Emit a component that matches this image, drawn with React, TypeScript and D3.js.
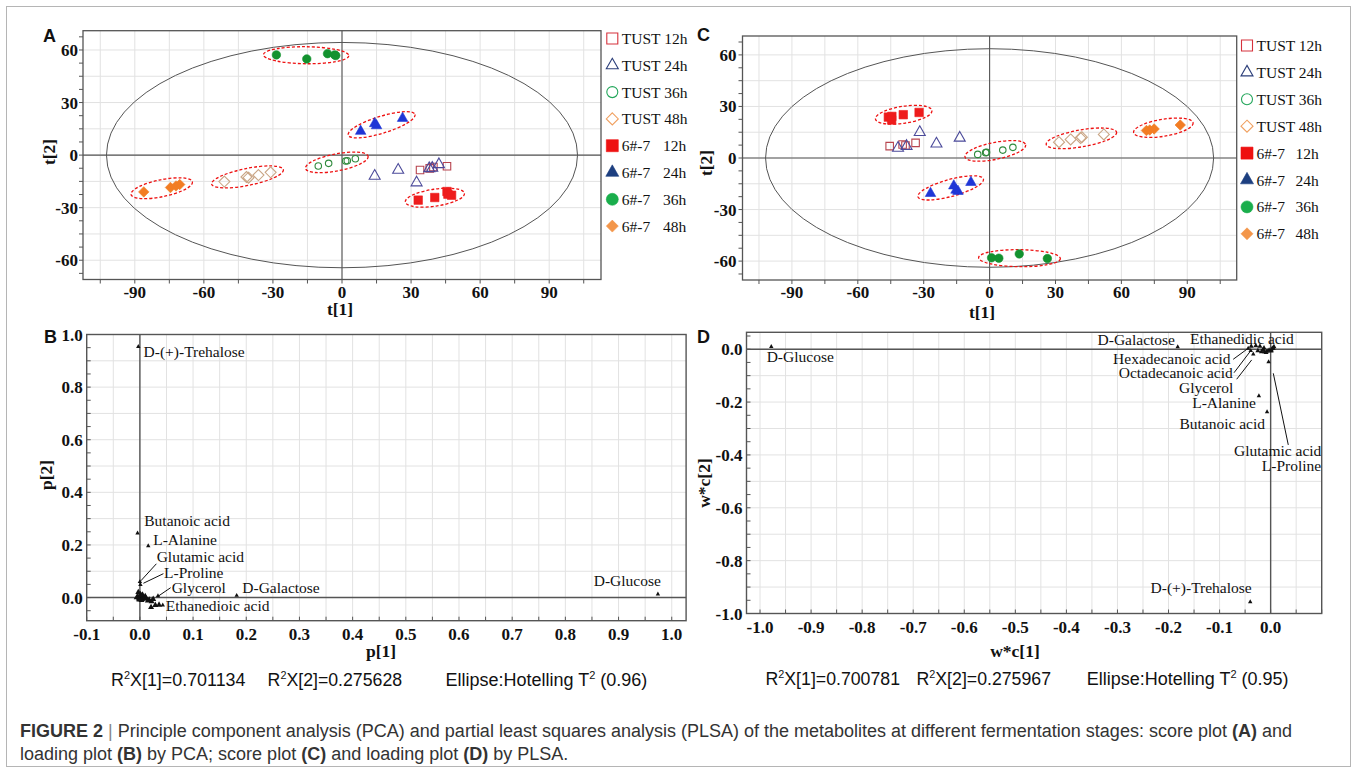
import React from "react";
import * as d3 from "d3";

type P = [number, number];

// ---------------- Score plot data: PCA (panel A) ----------------
const pcaTust12h: P[] = [[33.9, -8.5], [38.1, -7.6], [39.7, -6.8], [45.6, -6.4]];
const pcaTust24h: P[] = [[14.2, -11.9], [24.4, -8.5], [32.4, -15.7], [37.9, -7.6], [39.2, -7.4], [42.1, -5.3]];
const pcaTust36h: P[] = [[-10.3, -6.2], [-5.8, -4.7], [1.6, -3.4], [2.3, -3.2], [5.8, -2.1]];
const pcaTust48h: P[] = [[-51.1, -15.1], [-41.5, -12.5], [-40.6, -12.9], [-36.3, -11.4], [-31.0, -9.8]];
const pcaS12h: P[] = [[33.1, -25.7], [40.3, -24.2], [45.6, -20.8], [46.0, -22.3], [47.6, -22.9]];
const pcaS24h: P[] = [[8.1, 13.6], [14.2, 18.0], [15.0, 16.8], [26.3, 21.0]];
const pcaS36h: P[] = [[-28.5, 57.2], [-15.3, 54.9], [-6.3, 57.9], [-3.2, 57.2], [-2.7, 56.8]];
const pcaS48h: P[] = [[-86.1, -21.0], [-74.5, -18.5], [-72.1, -17.6], [-70.5, -16.8]];

// ---------------- Score plot data: PLSA (panel C) ----------------
const plsaTust12h: P[] = [[-45.5, 6.9], [-39.6, 7.9], [-38.3, 7.3], [-33.7, 8.8]];
const plsaTust24h: P[] = [[-41.7, 5.8], [-37.8, 6.9], [-31.8, 15.0], [-24.2, 8.3], [-13.6, 11.7]];
const plsaTust36h: P[] = [[-5.4, 2.1], [-1.8, 3.1], [-1.4, 3.3], [6.0, 4.6], [10.6, 6.2]];
const plsaTust48h: P[] = [[31.6, 9.2], [36.9, 10.8], [41.4, 11.7], [42.0, 12.1], [52.0, 13.7]];
const plsaS12h: P[] = [[-46.1, 23.8], [-44.5, 24.2], [-44.6, 22.1], [-39.3, 25.2], [-32.1, 26.5]];
const plsaS24h: P[] = [[-26.9, -20.6], [-16.3, -16.2], [-15.3, -18.7], [-14.4, -19.4], [-8.5, -14.2]];
const plsaS36h: P[] = [[0.9, -58.1], [4.2, -58.3], [13.5, -55.8], [26.3, -58.5]];
const plsaS48h: P[] = [[71.4, 16.0], [72.9, 16.3], [74.9, 16.9], [86.8, 19.2]];

// Hotelling T2 ellipse semi-axes (t[1], t[2])
const hotellingA: P = [102.3, 64.3];
const hotellingC: P = [102.0, 63.6];

// Legend labels
const legendStrain = ["TUST", "TUST", "TUST", "TUST", "6#-7", "6#-7", "6#-7", "6#-7"];
const legendTime = ["12h", "24h", "36h", "48h", "12h", "24h", "36h", "48h"];
// groups that carry a dashed ellipse
const ellipseGroups = [2, 3, 4, 5, 6, 7];

// Score axis ticks
const scoreXTicks = [-90, -60, -30, 0, 30, 60, 90];
const scoreYTicks = [-60, -30, 0, 30, 60];

// ---------------- Loading plot data: PCA (panel B) ----------------
const pcaLoadNames = ["D-(+)-Trehalose", "Butanoic acid", "L-Alanine", "Glutamic acid", "L-Proline", "Glycerol", "D-Galactose", "Ethanedioic acid", "D-Glucose"];
const pcaLoadX = [-0.003, -0.0044, 0.0157, 0.0, 0.001, 0.034, 0.182, 0.043, 0.974];
const pcaLoadY = [0.954, 0.245, 0.196, 0.06, 0.049, 0.006, 0.0076, -0.029, 0.013];
const pcaOtherX = [-0.004, 0.0, 0.002, -0.002, 0.004, 0.006, -0.006, 0.008, 0.001, 0.003, 0.0175, 0.022, 0.025, 0.021, 0.029, 0.036, -0.003, 0.01, -0.001, 0.005, 0.012, 0.015];
const pcaOtherY = [0.004, 0.0, 0.008, -0.004, -0.006, 0.002, 0.0, -0.003, 0.012, -0.01, -0.009, -0.015, -0.006, -0.037, -0.029, -0.028, 0.02, 0.005, -0.008, 0.01, -0.004, -0.012];

// ---------------- Loading plot data: PLSA (panel D) ----------------
const plsaLoadNames = ["D-Glucose", "D-Galactose", "Ethanedidic acid", "Hexadecanoic acid", "Octadecanoic acid", "Glycerol", "L-Alanine", "Butanoic acid", "Glutamic acid", "L-Proline", "D-(+)-Trehalose"];
const plsaLoadX = [-0.978, -0.182, -0.013, -0.044, -0.039, -0.034, -0.023, -0.007, -0.004, 0.002, -0.04];
const plsaLoadY = [0.01, 0.009, 0.006, 0.0034, -0.0057, -0.019, -0.177, -0.237, -0.048, -0.004, -0.956];
const plsaOtherX = [-0.038, -0.029, -0.021, -0.025, -0.018, -0.012, -0.007, -0.003, 0.003, 0.0065, -0.015, -0.009, 0.001, 0.005];
const plsaOtherY = [0.011, 0.013, 0.011, -0.006, -0.01, -0.01, -0.008, -0.004, 0.0025, 0.009, -0.002, -0.012, -0.007, 0.004];

const pcaR2X = ["0.701134", "0.275628"];
const plsaR2X = ["0.700781", "0.275967"];
const hotellingLevel = ["0.96", "0.95"];

// ---------------- layout / style ----------------
const W = 1357;
const H = 772;
const SERIF = "'Times New Roman', 'Liberation Serif', serif";
const SANS = "Arial, 'Liberation Sans', Helvetica, sans-serif";

const PLOT_COLORS = ["#b8454f", "#4b4a9a", "#2f8a3c", "#c9a585", "#ee1c1c", "#1f36d6", "#13922f", "#f27d24"];
const LEGEND_COLORS = ["#d6323c", "#2c3f7a", "#22a65a", "#f0a060", "#ee1111", "#1d3f80", "#1aae4c", "#f3964a"];
const SHAPES = ["square", "triangle", "circle", "diamond", "square", "triangle", "circle", "diamond"];
const FILLED = [false, false, false, false, true, true, true, true];
const PLOT_SIZES = [7.5, 11, 6.5, 11, 8.5, 10.5, 8.5, 10.5];
const LEGEND_SIZES = [11, 12, 11, 12, 12, 13, 12, 12];

type Frame = { x0: number; x1: number; y0: number; y1: number };

function Marker(props: { shape: string; filled: boolean; color: string; size: number; x: number; y: number }) {
  const { shape, filled, color, size: s, x, y } = props;
  const fill = filled ? color : "none";
  const stroke = color;
  const sw = filled ? 0.6 : 1.1;
  if (shape === "circle") {
    return <circle cx={x} cy={y} r={s / 2} fill={fill} stroke={stroke} strokeWidth={sw} />;
  }
  let d = "";
  if (shape === "square") d = `M${-s / 2},${-s / 2}h${s}v${s}h${-s}Z`;
  else if (shape === "triangle") {
    const h = s * 0.88;
    d = `M0,${(-h * 2) / 3}L${s / 2},${h / 3}L${-s / 2},${h / 3}Z`;
  } else d = `M0,${-s / 2}L${s / 2},0L0,${s / 2}L${-s / 2},0Z`;
  return <path d={d} transform={`translate(${x},${y})`} fill={fill} stroke={stroke} strokeWidth={sw} />;
}

function groupEllipse(pts: P[], xs: d3.ScaleLinear<number, number>, ys: d3.ScaleLinear<number, number>) {
  const px = pts.map((p) => [xs(p[0]), ys(p[1])]);
  const a = px.reduce((m, p) => (p[0] < m[0] ? p : m));
  const b = px.reduce((m, p) => (p[0] > m[0] ? p : m));
  const cx = (a[0] + b[0]) / 2;
  const cy = (a[1] + b[1]) / 2;
  const ang = (Math.atan2(b[1] - a[1], b[0] - a[0]) * 180) / Math.PI;
  const half = Math.hypot(b[0] - a[0], b[1] - a[1]) / 2;
  return { cx, cy, ang, rx: half + 13, ry: 8.5 };
}

function ScorePanel(props: {
  frame: Frame;
  scores: P[][];
  hotelling: P;
  letter: string;
  letterPos: P;
  legendX: number;
  legendY0: number;
  legendStep: number;
  legendTimeDx: number;
  xTitlePos: P;
  yTitlePos: P;
  yLabelGap: number;
}) {
  const { frame: f, scores, hotelling } = props;
  const xs = d3.scaleLinear().domain([-112.5, 112.5]).range([f.x0, f.x1]);
  const ys = d3.scaleLinear().domain([-71, 71]).range([f.y1, f.y0]);
  const grid = d3.range(-105, 106, 15);
  const gridY = d3.range(-60, 61, 15);
  const minorY = d3.range(-67.5, 68, 7.5);
  return (
    <g>
      {grid.map((v) => (
        <line key={"gx" + v} x1={xs(v)} x2={xs(v)} y1={f.y0} y2={f.y1} stroke="#e2e2e2" strokeWidth={1} />
      ))}
      {gridY.map((v) => (
        <line key={"gy" + v} x1={f.x0} x2={f.x1} y1={ys(v)} y2={ys(v)} stroke="#e2e2e2" strokeWidth={1} />
      ))}
      <line x1={f.x0} x2={f.x1} y1={ys(0)} y2={ys(0)} stroke="#555" strokeWidth={1.1} />
      <line x1={xs(0)} x2={xs(0)} y1={f.y0} y2={f.y1} stroke="#555" strokeWidth={1.1} />
      <ellipse cx={xs(0)} cy={ys(0)} rx={xs(hotelling[0]) - xs(0)} ry={ys(0) - ys(hotelling[1])} fill="none" stroke="#555" strokeWidth={1} />
      <rect x={f.x0} y={f.y0} width={f.x1 - f.x0} height={f.y1 - f.y0} fill="none" stroke="#555" strokeWidth={1.3} />
      {grid.map((v) => (
        <line key={"tx" + v} x1={xs(v)} x2={xs(v)} y1={f.y1} y2={f.y1 + 4} stroke="#555" strokeWidth={1} />
      ))}
      {minorY.map((v) => (
        <line key={"ty" + v} x1={f.x0 - 4} x2={f.x0} y1={ys(v)} y2={ys(v)} stroke="#555" strokeWidth={1} />
      ))}
      {scoreXTicks.map((v) => (
        <text key={"lx" + v} x={xs(v)} y={f.y1 + 18} textAnchor="middle" fontFamily={SERIF} fontWeight="bold" fontSize={17} fill="#111">
          {String(v)}
        </text>
      ))}
      {scoreYTicks.map((v) => (
        <text key={"ly" + v} x={f.x0 - props.yLabelGap} y={ys(v) + 6} textAnchor="end" fontFamily={SERIF} fontWeight="bold" fontSize={17} fill="#111">
          {String(v)}
        </text>
      ))}
      <text x={props.xTitlePos[0]} y={props.xTitlePos[1]} textAnchor="middle" fontFamily={SERIF} fontWeight="bold" fontSize={17.5} fill="#111">
        t[1]
      </text>
      <text
        transform={`translate(${props.yTitlePos[0]},${props.yTitlePos[1]}) rotate(-90)`}
        textAnchor="middle"
        fontFamily={SERIF}
        fontWeight="bold"
        fontSize={17.5}
        fill="#111"
      >
        t[2]
      </text>
      {ellipseGroups.map((gi) => {
        const e = groupEllipse(scores[gi], xs, ys);
        return (
          <ellipse
            key={"el" + gi}
            cx={e.cx}
            cy={e.cy}
            rx={e.rx}
            ry={e.ry}
            transform={`rotate(${e.ang} ${e.cx} ${e.cy})`}
            fill="none"
            stroke="#ee1111"
            strokeWidth={1.3}
            strokeDasharray="3,2"
          />
        );
      })}
      {scores.map((pts, gi) =>
        pts.map((p, i) => (
          <Marker key={gi + "-" + i} shape={SHAPES[gi]} filled={FILLED[gi]} color={PLOT_COLORS[gi]} size={PLOT_SIZES[gi]} x={xs(p[0])} y={ys(p[1])} />
        ))
      )}
      {legendStrain.map((s, i) => {
        const y = props.legendY0 + i * props.legendStep;
        const tx = props.legendX + 9.5;
        return (
          <g key={"lg" + i}>
            <Marker shape={SHAPES[i]} filled={FILLED[i]} color={LEGEND_COLORS[i]} size={LEGEND_SIZES[i]} x={props.legendX} y={y} />
            {s === "TUST" ? (
              <text x={tx} y={y + 5.5} fontFamily={SERIF} fontSize={15.5} fill="#111">
                {s + " " + legendTime[i]}
              </text>
            ) : (
              <g>
                <text x={tx} y={y + 5.5} fontFamily={SERIF} fontSize={15.5} fill="#111">
                  {s}
                </text>
                <text x={tx + props.legendTimeDx} y={y + 5.5} fontFamily={SERIF} fontSize={15.5} fill="#111">
                  {legendTime[i]}
                </text>
              </g>
            )}
          </g>
        );
      })}
      <text x={props.letterPos[0]} y={props.letterPos[1]} fontFamily={SANS} fontWeight="bold" fontSize={18} fill="#111">
        {props.letter}
      </text>
    </g>
  );
}

type LabelLayout = { dx: number; dy: number; anchor?: string; leader?: [number, number, number, number] };

function fmt1(v: number) {
  if (Math.abs(v) < 1e-9) return "0.0";
  return v.toFixed(1);
}

function Tri(props: { x: number; y: number; s?: number }) {
  const s = props.s || 4.4;
  const h = s * 0.9;
  return <path d={`M${props.x},${props.y - (h * 2) / 3}L${props.x + s / 2},${props.y + h / 3}L${props.x - s / 2},${props.y + h / 3}Z`} fill="#111" />;
}

function LoadingPanel(props: {
  frame: Frame;
  xDomain: [number, number];
  yDomain: [number, number];
  xTicks: number[];
  yTicks: number[];
  names: string[];
  lx: number[];
  ly: number[];
  ox: number[];
  oy: number[];
  otherSize: number;
  layout: Record<string, LabelLayout>;
  letter: string;
  letterPos: P;
  xTitle: string;
  yTitle: string;
  xTitlePos: P;
  yTitlePos: P;
}) {
  const f = props.frame;
  const xs = d3.scaleLinear().domain(props.xDomain).range([f.x0, f.x1]);
  const ys = d3.scaleLinear().domain(props.yDomain).range([f.y1, f.y0]);
  const gx = d3.range(Math.ceil(props.xDomain[0] * 20 - 1e-6), Math.floor(props.xDomain[1] * 20 + 1e-6) + 1).map((k) => k / 20);
  const gy = d3.range(Math.ceil(props.yDomain[0] * 10 - 1e-6), Math.floor(props.yDomain[1] * 10 + 1e-6) + 1).map((k) => k / 10);
  const ty = d3.range(Math.ceil(props.yDomain[0] * 20 - 1e-6), Math.floor(props.yDomain[1] * 20 + 1e-6) + 1).map((k) => k / 20);
  return (
    <g>
      {gx.map((v) => (
        <line key={"gx" + v} x1={xs(v)} x2={xs(v)} y1={f.y0} y2={f.y1} stroke="#e2e2e2" strokeWidth={1} />
      ))}
      {gy.map((v) => (
        <line key={"gy" + v} x1={f.x0} x2={f.x1} y1={ys(v)} y2={ys(v)} stroke="#e2e2e2" strokeWidth={1} />
      ))}
      <line x1={f.x0} x2={f.x1} y1={ys(0)} y2={ys(0)} stroke="#555" strokeWidth={1.4} />
      <line x1={xs(0)} x2={xs(0)} y1={f.y0} y2={f.y1} stroke="#555" strokeWidth={1.4} />
      <rect x={f.x0} y={f.y0} width={f.x1 - f.x0} height={f.y1 - f.y0} fill="none" stroke="#555" strokeWidth={1.4} />
      {gx.map((v) => (
        <line key={"tx" + v} x1={xs(v)} x2={xs(v)} y1={f.y1} y2={f.y1 - 4} stroke="#555" strokeWidth={1} />
      ))}
      {ty.map((v) => (
        <line key={"ty" + v} x1={f.x0} x2={f.x0 + 4} y1={ys(v)} y2={ys(v)} stroke="#555" strokeWidth={1} />
      ))}
      {props.xTicks.map((v) => (
        <text key={"lx" + v} x={xs(v)} y={f.y1 + 19} textAnchor="middle" fontFamily={SERIF} fontWeight="bold" fontSize={17} fill="#111">
          {fmt1(v)}
        </text>
      ))}
      {props.yTicks.map((v) => (
        <text key={"ly" + v} x={f.x0 - 4} y={ys(v) + 6} textAnchor="end" fontFamily={SERIF} fontWeight="bold" fontSize={17} fill="#111">
          {fmt1(v)}
        </text>
      ))}
      <text x={props.xTitlePos[0]} y={props.xTitlePos[1]} textAnchor="middle" fontFamily={SERIF} fontWeight="bold" fontSize={17.5} fill="#111">
        {props.xTitle}
      </text>
      <text
        transform={`translate(${props.yTitlePos[0]},${props.yTitlePos[1]}) rotate(-90)`}
        textAnchor="middle"
        fontFamily={SERIF}
        fontWeight="bold"
        fontSize={17.5}
        fill="#111"
      >
        {props.yTitle}
      </text>
      {props.ox.map((v, i) => (
        <Tri key={"o" + i} x={xs(v)} y={ys(props.oy[i])} s={props.otherSize} />
      ))}
      {props.names.map((n, i) => {
        const px = xs(props.lx[i]);
        const py = ys(props.ly[i]);
        const L = props.layout[n];
        return (
          <g key={"n" + i}>
            <Tri x={px} y={py} />
            {L && L.leader ? (
              <line x1={px + L.leader[0]} y1={py + L.leader[1]} x2={px + L.leader[2]} y2={py + L.leader[3]} stroke="#111" strokeWidth={1} />
            ) : null}
            {L ? (
              <text x={px + L.dx} y={py + L.dy} textAnchor={L.anchor || "start"} fontFamily={SERIF} fontSize={15.5} fill="#111">
                {n}
              </text>
            ) : null}
          </g>
        );
      })}
      <text x={props.letterPos[0]} y={props.letterPos[1]} fontFamily={SANS} fontWeight="bold" fontSize={18} fill="#111">
        {props.letter}
      </text>
    </g>
  );
}

const layoutB: Record<string, LabelLayout> = {
  "D-(+)-Trehalose": { dx: 5.3, dy: 10.7 },
  "Butanoic acid": { dx: 6.7, dy: -7 },
  "L-Alanine": { dx: 5, dy: -1 },
  "Glutamic acid": { dx: 16.8, dy: -19.5, leader: [1, -1, 16.5, -18] },
  "L-Proline": { dx: 23.6, dy: -6.4, leader: [3, -1.4, 23, -11] },
  Glycerol: { dx: 13.7, dy: -2.7, leader: [1, -0.3, 12.7, -8.3] },
  "D-Galactose": { dx: 5.6, dy: -2.3 },
  "Ethanedioic acid": { dx: 3, dy: 6 },
  "D-Glucose": { dx: 3, dy: -8.4, anchor: "end" },
};

const layoutD: Record<string, LabelLayout> = {
  "D-Glucose": { dx: -4.6, dy: 15.7 },
  "D-Galactose": { dx: -2.7, dy: -1.8, anchor: "end" },
  "Ethanedidic acid": { dx: -74, dy: -3.6 },
  "Hexadecanoic acid": { dx: -17.6, dy: 15.7, anchor: "end", leader: [0, 0, -15, 11] },
  "Octadecanoic acid": { dx: -18, dy: 27.6, anchor: "end", leader: [0, 0, -16.7, 22] },
  Glycerol: { dx: -20, dy: 39, anchor: "end", leader: [-1.6, 5.7, -16.6, 25] },
  "L-Alanine": { dx: -3, dy: 12.3, anchor: "end" },
  "Butanoic acid": { dx: -2, dy: 17.5, anchor: "end" },
  "Glutamic acid": { dx: -34.6, dy: 94, leader: [4.7, 11.4, 19.7, 83] },
  "L-Proline": { dx: -9.9, dy: 120.7 },
  "D-(+)-Trehalose": { dx: 1.5, dy: -8.9, anchor: "end" },
};

function Footer(props: { x: number[]; y: number; r2: string[]; level: string }) {
  const sup = (s: string) => (
    <tspan fontSize={11} dy={-7}>
      {s}
    </tspan>
  );
  return (
    <g fontFamily={SANS} fontSize={18} fill="#111">
      <text x={props.x[0]} y={props.y} textLength={134.5} lengthAdjust="spacingAndGlyphs">
        R{sup("2")}
        <tspan dy={7}>{"X[1]=" + props.r2[0]}</tspan>
      </text>
      <text x={props.x[1]} y={props.y} textLength={134.5} lengthAdjust="spacingAndGlyphs">
        R{sup("2")}
        <tspan dy={7}>{"X[2]=" + props.r2[1]}</tspan>
      </text>
      <text x={props.x[2]} y={props.y}>
        Ellipse:Hotelling T{sup("2")}
        <tspan dy={7}>{" (" + props.level + ")"}</tspan>
      </text>
    </g>
  );
}

export default function App() {
  const pcaScores = [pcaTust12h, pcaTust24h, pcaTust36h, pcaTust48h, pcaS12h, pcaS24h, pcaS36h, pcaS48h];
  const plsaScores = [plsaTust12h, plsaTust24h, plsaTust36h, plsaTust48h, plsaS12h, plsaS24h, plsaS36h, plsaS48h];
  const bXTicks = d3.range(-1, 11).map((k) => k / 10);
  const bYTicks = d3.range(0, 6).map((k) => (k * 2) / 10);
  const dXTicks = d3.range(-10, 1).map((k) => k / 10);
  const dYTicks = d3.range(-5, 1).map((k) => (k * 2) / 10);
  return (
    <svg width={W} height={H} viewBox={`0 0 ${W} ${H}`} style={{ position: "absolute", left: 0, top: 0, background: "#fff" }}>
      <rect x={0} y={0} width={W} height={H} fill="#fff" />
      <rect x={6.5} y={6.5} width={1344} height={760} fill="none" stroke="#b5b5b5" strokeWidth={1} />
      <ScorePanel
        frame={{ x0: 83, x1: 601, y0: 30.7, y1: 279.5 }}
        scores={pcaScores}
        hotelling={hotellingA}
        letter="A"
        letterPos={[43, 42]}
        legendX={612.3}
        legendY0={38.5}
        legendStep={26.8}
        legendTimeDx={41.3}
        xTitlePos={[340, 315]}
        yTitlePos={[55, 152]}
        yLabelGap={5}
      />
      <ScorePanel
        frame={{ x0: 742.5, x1: 1236.7, y0: 36, y1: 280 }}
        scores={plsaScores}
        hotelling={hotellingC}
        letter="C"
        letterPos={[697, 41]}
        legendX={1247}
        legendY0={45.5}
        legendStep={26.9}
        legendTimeDx={39}
        xTitlePos={[982, 318]}
        yTitlePos={[712, 163]}
        yLabelGap={6}
      />
      <LoadingPanel
        frame={{ x0: 86.7, x1: 686.1, y0: 334.5, y1: 620.7 }}
        xDomain={[-0.1, 1.027]}
        yDomain={[-0.088, 1.0]}
        xTicks={bXTicks}
        yTicks={bYTicks}
        names={pcaLoadNames}
        lx={pcaLoadX}
        ly={pcaLoadY}
        ox={pcaOtherX}
        oy={pcaOtherY}
        otherSize={6}
        layout={layoutB}
        letter="B"
        letterPos={[44, 343]}
        xTitle="p[1]"
        yTitle="p[2]"
        xTitlePos={[381, 657]}
        yTitlePos={[52, 475]}
      />
      <LoadingPanel
        frame={{ x0: 746.5, x1: 1321.7, y0: 332.3, y1: 613.5 }}
        xDomain={[-1.0265, 0.1]}
        yDomain={[-1.0, 0.064]}
        xTicks={dXTicks}
        yTicks={dYTicks}
        names={plsaLoadNames}
        lx={plsaLoadX}
        ly={plsaLoadY}
        ox={plsaOtherX}
        oy={plsaOtherY}
        otherSize={5}
        layout={layoutD}
        letter="D"
        letterPos={[697, 343]}
        xTitle="w*c[1]"
        yTitle="w*c[2]"
        xTitlePos={[1015, 657]}
        yTitlePos={[710, 483]}
      />
      <Footer x={[111, 267.6, 445.4]} y={686} r2={pcaR2X} level={hotellingLevel[0]} />
      <Footer x={[765.5, 916.5, 1086.7]} y={685} r2={plsaR2X} level={hotellingLevel[1]} />
      <g fontFamily={SANS} fontSize={18} fill="#333">
        <text x={20} y={737}>
          <tspan fontWeight="bold">FIGURE 2</tspan>
          <tspan fill="#888"> | </tspan>
          <tspan>Principle component analysis (PCA) and partial least squares analysis (PLSA) of the metabolites at different fermentation stages: score plot </tspan>
          <tspan fontWeight="bold">(A)</tspan>
          <tspan> and</tspan>
        </text>
        <text x={20} y={760}>
          <tspan>loading plot </tspan>
          <tspan fontWeight="bold">(B)</tspan>
          <tspan> by PCA; score plot </tspan>
          <tspan fontWeight="bold">(C)</tspan>
          <tspan> and loading plot </tspan>
          <tspan fontWeight="bold">(D)</tspan>
          <tspan> by PLSA.</tspan>
        </text>
      </g>
    </svg>
  );
}
